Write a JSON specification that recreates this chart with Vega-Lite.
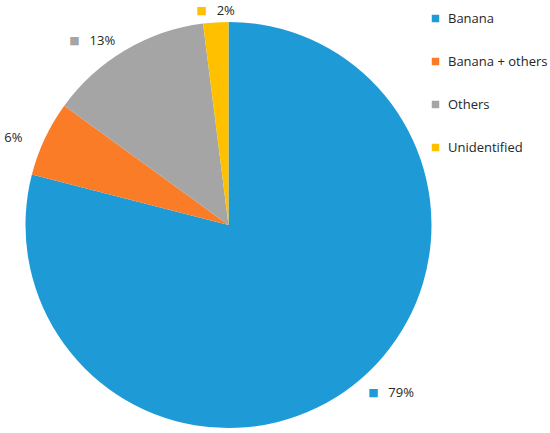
{
  "$schema": "https://vega.github.io/schema/vega-lite/v6.json",
  "width": 457,
  "height": 450,
  "autosize": {"type": "none"},
  "padding": {"left": 0, "top": 0, "right": 93, "bottom": 0},
  "background": "white",
  "config": {"view": {"stroke": null}, "font": "Open Sans"},
  "data": {"values": [
    {"Category": "Banana", "Share": 79, "Label": "79%"},
    {"Category": "Banana + others", "Share": 6, "Label": "6%"},
    {"Category": "Others", "Share": 13, "Label": "13%"},
    {"Category": "Unidentified", "Share": 2, "Label": "2%"}
  ]},
  "layer": [
    {
      "mark": {"type": "arc", "outerRadius": 203},
      "encoding": {
        "theta": {"field": "Share", "type": "quantitative", "stack": true},
        "order": {"field": "Category", "type": "ordinal"},
        "color": {
          "field": "Category", "type": "nominal",
          "scale": {"domain": ["Banana", "Banana + others", "Others", "Unidentified"], "range": ["#1E9BD7", "#FB7C26", "#A5A5A5", "#FFC000"]},
          "legend": {
            "title": null, "orient": "none", "legendX": 429, "legendY": 12,
            "symbolType": "square", "symbolSize": 56, "symbolStrokeWidth": 0,
            "labelFontSize": 13, "labelColor": "#262626", "labelFont": "Open Sans",
            "rowPadding": 29, "labelOffset": 6
          }
        }
      }
    },
    {
      "mark": {"type": "text", "radius": 220, "dx": 25, "dy": -6, "align": "left", "baseline": "middle", "fontSize": 13, "color": "#262626"},
      "encoding": {
        "theta": {"field": "Share", "type": "quantitative", "stack": true},
        "order": {"field": "Category", "type": "ordinal"},
        "text": {"condition": {"test": "datum.Category === 'Banana'", "field": "Label"}, "value": ""}
      }
    },
    {
      "mark": {"type": "text", "radius": 220, "dx": 10, "dy": -6, "align": "center", "baseline": "middle", "fontSize": 11, "font": "DejaVu Sans"},
      "encoding": {
        "theta": {"field": "Share", "type": "quantitative", "stack": true},
        "order": {"field": "Category", "type": "ordinal"},
        "color": {"field": "Category", "type": "nominal", "legend": null},
        "text": {"condition": {"test": "datum.Category === 'Banana'", "value": "■"}, "value": ""}
      }
    },
    {
      "mark": {"type": "text", "radius": 220, "dx": -7, "dy": 7, "align": "right", "baseline": "middle", "fontSize": 13, "color": "#262626"},
      "encoding": {
        "theta": {"field": "Share", "type": "quantitative", "stack": true},
        "order": {"field": "Category", "type": "ordinal"},
        "text": {"condition": {"test": "datum.Category === 'Banana + others'", "field": "Label"}, "value": ""}
      }
    },
    {
      "mark": {"type": "text", "radius": 220, "dx": -27, "dy": 5, "align": "left", "baseline": "middle", "fontSize": 13, "color": "#262626"},
      "encoding": {
        "theta": {"field": "Share", "type": "quantitative", "stack": true},
        "order": {"field": "Category", "type": "ordinal"},
        "text": {"condition": {"test": "datum.Category === 'Others'", "field": "Label"}, "value": ""}
      }
    },
    {
      "mark": {"type": "text", "radius": 220, "dx": -42, "dy": 5, "align": "center", "baseline": "middle", "fontSize": 11, "font": "DejaVu Sans"},
      "encoding": {
        "theta": {"field": "Share", "type": "quantitative", "stack": true},
        "order": {"field": "Category", "type": "ordinal"},
        "color": {"field": "Category", "type": "nominal", "legend": null},
        "text": {"condition": {"test": "datum.Category === 'Others'", "value": "■"}, "value": ""}
      }
    },
    {
      "mark": {"type": "text", "radius": 220, "dx": 2, "dy": 6, "align": "left", "baseline": "middle", "fontSize": 13, "color": "#262626"},
      "encoding": {
        "theta": {"field": "Share", "type": "quantitative", "stack": true},
        "order": {"field": "Category", "type": "ordinal"},
        "text": {"condition": {"test": "datum.Category === 'Unidentified'", "field": "Label"}, "value": ""}
      }
    },
    {
      "mark": {"type": "text", "radius": 220, "dx": -13, "dy": 6, "align": "center", "baseline": "middle", "fontSize": 11, "font": "DejaVu Sans"},
      "encoding": {
        "theta": {"field": "Share", "type": "quantitative", "stack": true},
        "order": {"field": "Category", "type": "ordinal"},
        "color": {"field": "Category", "type": "nominal", "legend": null},
        "text": {"condition": {"test": "datum.Category === 'Unidentified'", "value": "■"}, "value": ""}
      }
    }
  ]
}
